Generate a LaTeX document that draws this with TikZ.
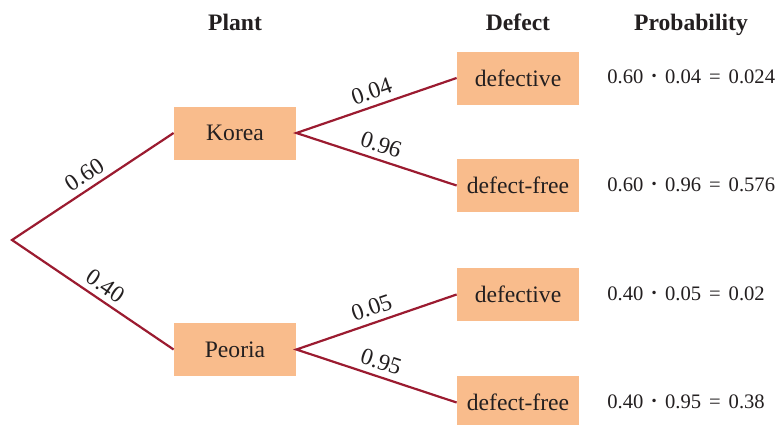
\documentclass[tikz,border=0pt]{standalone}
\usepackage{fontspec}
\setmainfont{Liberation Serif}
\definecolor{branch}{HTML}{9B1B30}
\definecolor{boxfill}{HTML}{F9BC8C}
\definecolor{txt}{HTML}{231F20}
\newcommand{\pdot}{\hspace{3pt}\raisebox{-1.1pt}{\scalebox{1.4}{·}}\hspace{3pt}}
\newcommand{\peq}{\hspace{4pt}=\hspace{4pt}}
\begin{document}
\begin{tikzpicture}[x=0.5pt,y=-0.5pt,
  every node/.style={font=\fontsize{11.8}{14}\selectfont, text=txt},
  boxnode/.style={fill=boxfill, minimum width=61pt, minimum height=26.5pt, inner sep=0pt},
  header/.style={font=\fontsize{11.8}{14}\selectfont\bfseries, anchor=base},
  branchline/.style={draw=branch, line width=1.1pt},
  prob/.style={anchor=west, inner sep=0pt, font=\fontsize{10.3}{12}\selectfont},
  elabel/.style={sloped, above, inner sep=3pt}]
\useasboundingbox (0,0) rectangle (777,424);
\coordinate (root) at (12,240);
\node[boxnode] (korea) at (235,133) {Korea};
\node[boxnode] (peoria) at (235,349.5) {Peoria};
\node[boxnode] (d1) at (518,78) {defective};
\node[boxnode] (f1) at (518,185.5) {defect-free};
\node[boxnode] (d2) at (518,294.5) {defective};
\node[boxnode] (f2) at (518,402.5) {defect-free};
\node[header] (hplant) at (235,30) {Plant};
\node[header] (hdefect) at (518,30) {Defect};
\node[header] (hprob) at (691,30) {Probability};
\node[prob] (p1) at (607,78) {0.60\pdot0.04\peq0.024};
\node[prob] (p2) at (607,185.5) {0.60\pdot0.96\peq0.576};
\node[prob] (p3) at (607,294.5) {0.40\pdot0.05\peq0.02};
\node[prob] (p4) at (607,402.5) {0.40\pdot0.95\peq0.38};
\draw[branchline] (korea.west) -- (root) -- (peoria.west);
\path (root) -- node[elabel, pos=0.5] {0.60} (korea.west);
\path (root) -- node[elabel, pos=0.53] {0.40} (peoria.west);
\draw[branchline] (d1.west) -- node[elabel, pos=0.5] {0.04} (korea.east) -- node[elabel, pos=0.5] {0.96} (f1.west);
\draw[branchline] (d2.west) -- node[elabel, pos=0.5] {0.05} (peoria.east) -- node[elabel, pos=0.5] {0.95} (f2.west);
\end{tikzpicture}
\end{document}
